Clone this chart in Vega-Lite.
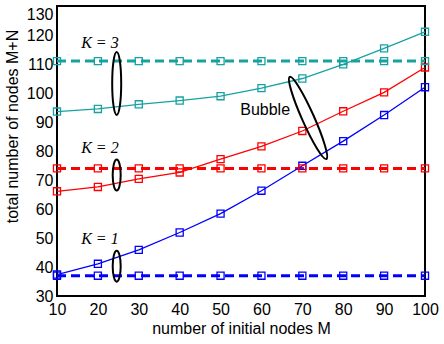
{
  "$schema": "https://vega.github.io/schema/vega-lite/v6.json",
  "autosize": "none",
  "width": 368,
  "height": 290,
  "padding": {"left": 57, "top": 6, "right": 19, "bottom": 48},
  "background": "white",
  "config": {
    "view": {"stroke": "black", "strokeWidth": 2},
    "axis": {
      "domain": false, "ticks": false, "grid": false, "labelFlush": false, "labelOverlap": false,
      "labelFont": "Liberation Sans", "labelFontSize": 16, "labelColor": "black",
      "titleFont": "Liberation Sans", "titleFontSize": 16, "titleFontWeight": "normal", "titleColor": "black"
    }
  },
  "datasets": {
    "series": [
      {"M": 10, "nodes": 93.6, "K": "K3", "method": "Bubble"},
      {"M": 20, "nodes": 94.5, "K": "K3", "method": "Bubble"},
      {"M": 30, "nodes": 96.1, "K": "K3", "method": "Bubble"},
      {"M": 40, "nodes": 97.4, "K": "K3", "method": "Bubble"},
      {"M": 50, "nodes": 98.9, "K": "K3", "method": "Bubble"},
      {"M": 60, "nodes": 101.7, "K": "K3", "method": "Bubble"},
      {"M": 70, "nodes": 105.0, "K": "K3", "method": "Bubble"},
      {"M": 80, "nodes": 109.9, "K": "K3", "method": "Bubble"},
      {"M": 90, "nodes": 115.4, "K": "K3", "method": "Bubble"},
      {"M": 100, "nodes": 121.1, "K": "K3", "method": "Bubble"},
      {"M": 10, "nodes": 66.1, "K": "K2", "method": "Bubble"},
      {"M": 20, "nodes": 67.6, "K": "K2", "method": "Bubble"},
      {"M": 30, "nodes": 70.4, "K": "K2", "method": "Bubble"},
      {"M": 40, "nodes": 72.6, "K": "K2", "method": "Bubble"},
      {"M": 50, "nodes": 77.2, "K": "K2", "method": "Bubble"},
      {"M": 60, "nodes": 81.6, "K": "K2", "method": "Bubble"},
      {"M": 70, "nodes": 86.9, "K": "K2", "method": "Bubble"},
      {"M": 80, "nodes": 93.7, "K": "K2", "method": "Bubble"},
      {"M": 90, "nodes": 100.2, "K": "K2", "method": "Bubble"},
      {"M": 100, "nodes": 108.8, "K": "K2", "method": "Bubble"},
      {"M": 10, "nodes": 37.4, "K": "K1", "method": "Bubble"},
      {"M": 20, "nodes": 41.1, "K": "K1", "method": "Bubble"},
      {"M": 30, "nodes": 45.9, "K": "K1", "method": "Bubble"},
      {"M": 40, "nodes": 51.9, "K": "K1", "method": "Bubble"},
      {"M": 50, "nodes": 58.4, "K": "K1", "method": "Bubble"},
      {"M": 60, "nodes": 66.3, "K": "K1", "method": "Bubble"},
      {"M": 70, "nodes": 74.9, "K": "K1", "method": "Bubble"},
      {"M": 80, "nodes": 83.4, "K": "K1", "method": "Bubble"},
      {"M": 90, "nodes": 92.4, "K": "K1", "method": "Bubble"},
      {"M": 100, "nodes": 102.0, "K": "K1", "method": "Bubble"},
      {"M": 10, "nodes": 111, "K": "K3", "method": "Fixed"},
      {"M": 20, "nodes": 111, "K": "K3", "method": "Fixed"},
      {"M": 30, "nodes": 111, "K": "K3", "method": "Fixed"},
      {"M": 40, "nodes": 111, "K": "K3", "method": "Fixed"},
      {"M": 50, "nodes": 111, "K": "K3", "method": "Fixed"},
      {"M": 60, "nodes": 111, "K": "K3", "method": "Fixed"},
      {"M": 70, "nodes": 111, "K": "K3", "method": "Fixed"},
      {"M": 80, "nodes": 111, "K": "K3", "method": "Fixed"},
      {"M": 90, "nodes": 111, "K": "K3", "method": "Fixed"},
      {"M": 100, "nodes": 111, "K": "K3", "method": "Fixed"},
      {"M": 10, "nodes": 74, "K": "K2", "method": "Fixed"},
      {"M": 20, "nodes": 74, "K": "K2", "method": "Fixed"},
      {"M": 30, "nodes": 74, "K": "K2", "method": "Fixed"},
      {"M": 40, "nodes": 74, "K": "K2", "method": "Fixed"},
      {"M": 50, "nodes": 74, "K": "K2", "method": "Fixed"},
      {"M": 60, "nodes": 74, "K": "K2", "method": "Fixed"},
      {"M": 70, "nodes": 74, "K": "K2", "method": "Fixed"},
      {"M": 80, "nodes": 74, "K": "K2", "method": "Fixed"},
      {"M": 90, "nodes": 74, "K": "K2", "method": "Fixed"},
      {"M": 100, "nodes": 74, "K": "K2", "method": "Fixed"},
      {"M": 10, "nodes": 37, "K": "K1", "method": "Fixed"},
      {"M": 20, "nodes": 37, "K": "K1", "method": "Fixed"},
      {"M": 30, "nodes": 37, "K": "K1", "method": "Fixed"},
      {"M": 40, "nodes": 37, "K": "K1", "method": "Fixed"},
      {"M": 50, "nodes": 37, "K": "K1", "method": "Fixed"},
      {"M": 60, "nodes": 37, "K": "K1", "method": "Fixed"},
      {"M": 70, "nodes": 37, "K": "K1", "method": "Fixed"},
      {"M": 80, "nodes": 37, "K": "K1", "method": "Fixed"},
      {"M": 90, "nodes": 37, "K": "K1", "method": "Fixed"},
      {"M": 100, "nodes": 37, "K": "K1", "method": "Fixed"}
    ],
    "klabels": [
      {"M": 20.5, "nodes": 117.2, "label": "K = 3"},
      {"M": 20.5, "nodes": 81.0, "label": "K = 2"},
      {"M": 20.5, "nodes": 49.7, "label": "K = 1"}
    ],
    "tall": [{"M": 24.6, "nodes": 103.3}],
    "small": [{"M": 24.6, "nodes": 71.7}, {"M": 24.6, "nodes": 40.3}],
    "bubble": [{"M": 71.4, "nodes": 91.4, "label": "Bubble"}],
    "bubbletext": [{"M": 60.9, "nodes": 94.1, "label": "Bubble"}]
  },
  "encoding": {
    "x": {"field": "M", "type": "quantitative",
      "scale": {"domain": [10, 100], "nice": false, "zero": false},
      "axis": {"values": [10, 20, 30, 40, 50, 60, 70, 80, 90, 100], "labelPadding": 5, "titlePadding": 3, "title": "number of initial nodes M"}},
    "y": {"field": "nodes", "type": "quantitative",
      "scale": {"domain": [30, 130], "nice": false, "zero": false},
      "axis": {"values": [30, 40, 50, 60, 70, 80, 90, 100, 110, 120, 130], "labelPadding": 4,
        "labelBaseline": {"condition": {"test": "datum.value === 130", "value": "top"}, "value": "middle"},
        "title": "total number of nodes M+N", "titleX": -45, "titleY": 120, "titleBaseline": "middle"}}
  },
  "layer": [
    {
      "data": {"name": "series"},
      "transform": [{"filter": "datum.method === 'Fixed'"}],
      "mark": {"type": "line", "strokeWidth": 3, "strokeDash": [9, 5]},
      "encoding": {
        "color": {"field": "K", "type": "nominal", "scale": {"domain": ["K1", "K2", "K3"], "range": ["#0000ff", "#ff0000", "#17a2a2"]}, "legend": null},
        "detail": {"field": "K"}
      }
    },
    {
      "data": {"name": "series"},
      "transform": [{"filter": "datum.method === 'Bubble'"}],
      "mark": {"type": "line", "strokeWidth": 1.3},
      "encoding": {
        "color": {"field": "K", "type": "nominal", "legend": null},
        "detail": {"field": "K"}
      }
    },
    {
      "data": {"name": "series"},
      "mark": {"type": "point", "shape": "square", "filled": false, "size": 50, "strokeWidth": 1.3, "opacity": 1},
      "encoding": {
        "color": {"field": "K", "type": "nominal", "legend": null}
      }
    },
    {
      "data": {"name": "klabels"},
      "mark": {"type": "text", "font": "Liberation Serif", "fontStyle": "italic", "fontSize": 16, "color": "black", "align": "center", "baseline": "middle"},
      "encoding": {"text": {"field": "label"}}
    },
    {
      "data": {"name": "bubbletext"},
      "mark": {"type": "text", "font": "Liberation Sans", "fontSize": 16, "color": "black", "align": "center", "baseline": "middle"},
      "encoding": {"text": {"field": "label"}}
    },
    {
      "data": {"name": "tall"},
      "mark": {"type": "point", "filled": false, "color": "black", "strokeWidth": 2, "opacity": 1, "size": 3969,
        "shape": "M0,-1 C0.079,-1 0.143,-0.552 0.143,0 C0.143,0.552 0.079,1 0,1 C-0.079,1 -0.143,0.552 -0.143,0 C-0.143,-0.552 -0.079,-1 0,-1 Z"},
      "encoding": {}
    },
    {
      "data": {"name": "small"},
      "mark": {"type": "point", "filled": false, "color": "black", "strokeWidth": 2, "opacity": 1, "size": 961,
        "shape": "M0,-1 C0.143,-1 0.258,-0.552 0.258,0 C0.258,0.552 0.143,1 0,1 C-0.143,1 -0.258,0.552 -0.258,0 C-0.258,-0.552 -0.143,-1 0,-1 Z"},
      "encoding": {}
    },
    {
      "data": {"name": "bubble"},
      "mark": {"type": "point", "filled": false, "color": "black", "strokeWidth": 2, "opacity": 1, "size": 8100, "angle": 336,
        "shape": "M0,-1 C0.074,-1 0.133,-0.552 0.133,0 C0.133,0.552 0.074,1 0,1 C-0.074,1 -0.133,0.552 -0.133,0 C-0.133,-0.552 -0.074,-1 0,-1 Z"},
      "encoding": {}
    }
  ]
}
